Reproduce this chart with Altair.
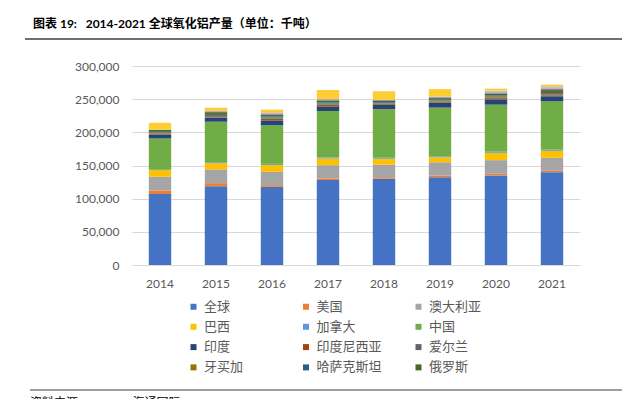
import altair as alt
import pandas as pd

years = ["2014", "2015", "2016", "2017", "2018", "2019", "2020", "2021"]

series_names = ["全球", "美国", "澳大利亚", "巴西", "加拿大", "中国", "印度", "印度尼西亚",
                "爱尔兰", "牙买加", "哈萨克斯坦", "俄罗斯", "沙特阿拉伯", "乌克兰", "阿联酋", "其他"]
legend_names = series_names[:12]

colors = ["#4472C4", "#ED7D31", "#A5A5A5", "#FFC000", "#5B9BD5", "#70AD47", "#264478", "#9E480E",
          "#636363", "#997300", "#255E91", "#43682B", "#698ED0", "#F1975A", "#B7B7B7", "#FFCD33"]

quanqiu = [107000, 118900, 117900, 128000, 129900, 132400, 135000, 140000]
meiguo = [5500, 4500, 2500, 2500, 2500, 2500, 2500, 2000]
aodaliya = [20500, 20600, 20000, 20000, 19100, 20000, 20600, 19600]
baxi = [10000, 9500, 10500, 10000, 8500, 7500, 11000, 10500]
jianada = [500, 1500, 1500, 1500, 1500, 1500, 1500, 1500]
zhongguo = [47200, 61000, 58200, 70200, 73200, 73300, 71200, 73200]
yindu = [5400, 6000, 7000, 6500, 6600, 7000, 7500, 7500]
yindunixiya = [300, 500, 1000, 1000, 1000, 1000, 1200, 1300]
aierlan = [1900, 1900, 1900, 1900, 1000, 1300, 1700, 1800]
yamaijia = [1800, 1900, 1900, 1900, 1200, 1500, 2000, 2000]
hasakesitan = [1600, 1500, 1500, 1500, 1300, 1300, 1500, 1500]
eluosi = [1800, 2600, 2600, 2600, 2000, 2300, 2700, 2800]
shate = [0, 1200, 1900, 1800, 1000, 1300, 1800, 1900]
wukelan = [300, 1000, 1500, 900, 500, 700, 1200, 1700]
alianqiu = [0, 0, 300, 0, 0, 600, 1500, 2100]
qita = [10500, 4500, 4000, 13500, 12500, 11000, 3000, 2500]

all_series = [quanqiu, meiguo, aodaliya, baxi, jianada, zhongguo, yindu, yindunixiya,
              aierlan, yamaijia, hasakesitan, eluosi, shate, wukelan, alianqiu, qita]

rows = []
for i, (name, vals) in enumerate(zip(series_names, all_series)):
    for y, v in zip(years, vals):
        rows.append({"year": y, "series": name, "value": v, "idx": i})
df = pd.DataFrame(rows)

CJK = "Lato, 'Noto Sans CJK SC'"

bars = alt.Chart(df).mark_bar().encode(
    x=alt.X("year:N", sort=years,
            scale=alt.Scale(paddingInner=0.6, paddingOuter=0.3),
            axis=alt.Axis(title=None, labelAngle=0, domain=False, ticks=False,
                          labelPadding=13, labelFont="Lato", labelFontSize=12,
                          labelColor="#595959", grid=False)),
    y=alt.Y("sum(value):Q", stack="zero",
            scale=alt.Scale(domain=[0, 300000], nice=False),
            axis=alt.Axis(title=None, values=[0, 50000, 100000, 150000, 200000, 250000, 300000],
                          format=",.0f", domain=False, ticks=False, labelPadding=13,
                          labelFont="Lato", labelFontSize=12, labelColor="#595959",
                          grid=True, gridColor="#d9d9d9", gridWidth=1.2)),
    color=alt.Color("series:N",
                    scale=alt.Scale(domain=series_names, range=colors),
                    legend=alt.Legend(title=None, values=legend_names, orient="none",
                                      direction="horizontal", gridAlign="all",
                                      legendX=55, legendY=234, columns=3,
                                      columnPadding=29.5, rowPadding=6.3,
                                      symbolType="square", symbolSize=36,
                                      symbolStrokeWidth=0, labelOffset=4,
                                      labelFont="Noto Sans CJK SC", labelFontSize=13,
                                      labelColor="#595959", padding=0)),
    order=alt.Order("idx:Q", sort="ascending"),
)

one = alt.Data(values=[{"a": 1}])

title_text = alt.Chart(one).mark_text(
    text="图表 19:\u00a0\u00a0 2014-2021 全球氧化铝产量（单位：千吨）",
    align="left", baseline="middle", font=CJK, fontSize=12, fontWeight="bold", color="#000000"
).encode(x=alt.value(-99), y=alt.value(-42))

source_text = alt.Chart(one).mark_text(
    text="资料来源：USGS，海通国际",
    align="left", baseline="middle", font=CJK, fontSize=12, color="#000000"
).encode(x=alt.value(-102), y=alt.value(337))

top_line = alt.Chart(one).mark_rule(color="#7f7f7f", strokeWidth=1.5).encode(
    x=alt.value(-107), x2=alt.value(498), y=alt.value(-59))
title_line = alt.Chart(one).mark_rule(color="#404040", strokeWidth=1.5).encode(
    x=alt.value(-107), x2=alt.value(498), y=alt.value(-27))
bottom_line = alt.Chart(one).mark_rule(color="#404040", strokeWidth=1.2).encode(
    x=alt.value(-102), x2=alt.value(498), y=alt.value(324))

chart = alt.layer(bars, title_text, source_text, top_line, title_line, bottom_line).properties(
    width=448, height=199,
    autosize=alt.AutoSizeParams(type="none"),
    padding={"left": 124, "top": 58, "right": 42, "bottom": 135},
    background="white",
).configure_view(stroke=None)

chart.save("out.html", embed_options={"renderer": "svg", "actions": False})
